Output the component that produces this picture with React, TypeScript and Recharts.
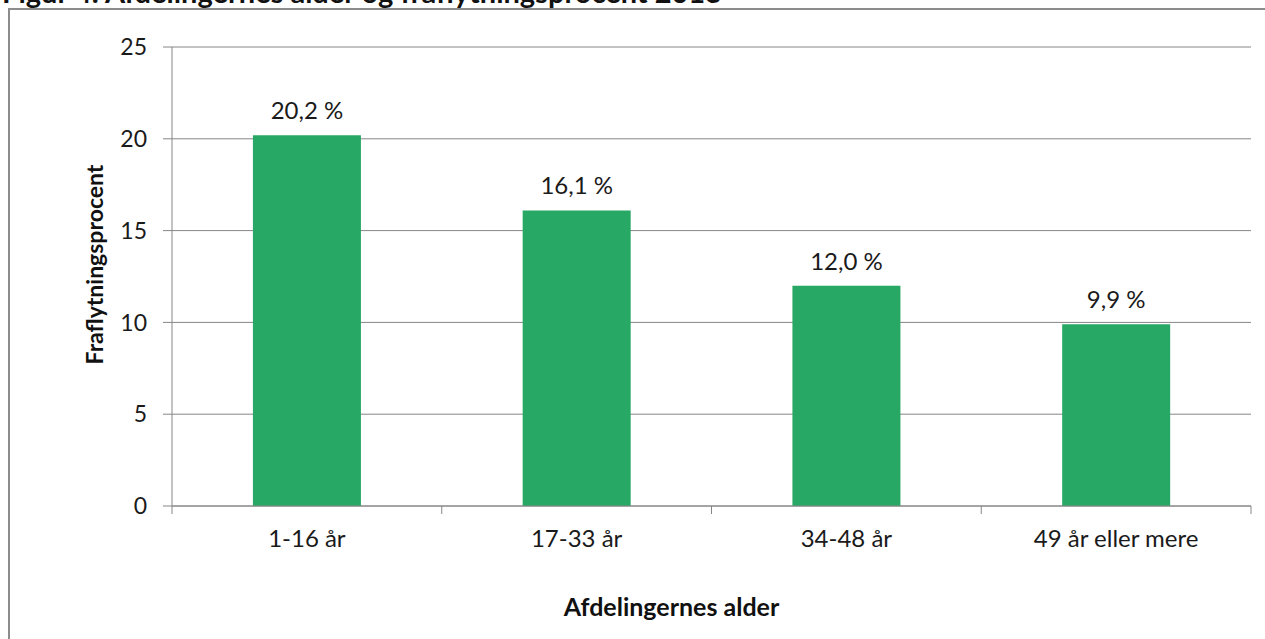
import { BarChart, Bar, XAxis, YAxis, CartesianGrid, LabelList } from 'recharts';

const categories = ['1-16 år', '17-33 år', '34-48 år', '49 år eller mere'];
const values = [20.2, 16.1, 12.0, 9.9];
const yTicks = [0, 5, 10, 15, 20, 25];

const chartTitle = 'Figur 4: Afdelingernes alder og fraflytningsprocent 2013';
const xTitle = 'Afdelingernes alder';
const yTitle = 'Fraflytningsprocent';

const FONT = 'Lato, "Open Sans", sans-serif';
const GRAY = '#868686';
const GREEN = '#27a865';

const data = categories.map((name, i) => ({ name, value: values[i] }));

function CategoryTick(props: any) {
  const { x, y, payload, index, visibleTicksCount } = props;
  const half = payload && payload.offset ? payload.offset : 0;
  return (
    <g>
      <line x1={x - half} x2={x - half} y1={y - 8} y2={y} stroke={GRAY} />
      {index === visibleTicksCount - 1 && (
        <line x1={x + half} x2={x + half} y1={y - 8} y2={y} stroke={GRAY} />
      )}
      <text
        x={x}
        y={y + 27}
        textAnchor="middle"
        dominantBaseline="middle"
        fill="#1a1a1a"
        fontSize={24}
        fontFamily={FONT}
      >
        {payload.value}
      </text>
    </g>
  );
}

function YTitle(props: any) {
  const vb = props.viewBox || { x: 0, y: 0, width: 0, height: 0 };
  const cx = vb.x + 45;
  const cy = vb.y + vb.height / 2 - 12;
  return (
    <text
      x={cx}
      y={cy}
      transform={`rotate(-90, ${cx}, ${cy})`}
      textAnchor="middle"
      dominantBaseline="middle"
      fill="#111"
      fontSize={23}
      fontWeight={700}
      fontFamily={FONT}
    >
      {yTitle}
    </text>
  );
}

function XTitle(props: any) {
  const vb = props.viewBox || { x: 0, y: 0, width: 0, height: 0 };
  const cx = vb.x + vb.width / 2 - 40;
  const cy = vb.y + vb.height + 50;
  return (
    <text
      x={cx}
      y={cy}
      textAnchor="middle"
      fill="#111"
      fontSize={25}
      fontWeight={700}
      fontFamily={FONT}
    >
      {xTitle}
    </text>
  );
}

export default function App() {
  return (
    <div
      style={{
        position: 'absolute',
        left: 0,
        top: 0,
        width: 1265,
        height: 639,
        overflow: 'hidden',
        background: '#fff',
        fontFamily: FONT,
      }}
    >
      <div
        style={{
          position: 'absolute',
          left: 2,
          top: -26,
          fontSize: 29,
          fontWeight: 700,
          whiteSpace: 'nowrap',
          color: '#111',
        }}
      >
        {chartTitle}
      </div>
      <div
        style={{
          position: 'absolute',
          left: 8,
          top: 8,
          width: 1400,
          height: 800,
          border: '2px solid #8c8c8c',
        }}
      />
      <div style={{ position: 'absolute', left: 0, top: 0 }}>
        <BarChart
          width={1265}
          height={639}
          data={data}
          barCategoryGap="30%"
          margin={{ top: 47, right: 14, bottom: 73, left: 52 }}
        >
          <CartesianGrid stroke={GRAY} vertical={false} />
          <XAxis
            dataKey="name"
            height={60}
            axisLine={{ stroke: GRAY }}
            tickLine={false}
            tick={<CategoryTick />}
            interval={0}
            label={{ content: <XTitle /> }}
          />
          <YAxis
            width={120}
            domain={[0, 25]}
            ticks={yTicks}
            interval={0}
            axisLine={{ stroke: GRAY }}
            tickLine={{ stroke: GRAY }}
            tickSize={9}
            tickMargin={16}
            tick={{ fill: '#1a1a1a', fontSize: 23, fontFamily: FONT }}
            label={{ content: <YTitle /> }}
          />
          <Bar dataKey="value" fill={GREEN} isAnimationActive={false}>
            <LabelList
              dataKey="value"
              position="top"
              offset={16}
              fill="#1a1a1a"
              fontSize={24}
              fontFamily={FONT}
              formatter={(v: any) => `${Number(v).toFixed(1).replace('.', ',')} %`}
            />
          </Bar>
        </BarChart>
      </div>
    </div>
  );
}
